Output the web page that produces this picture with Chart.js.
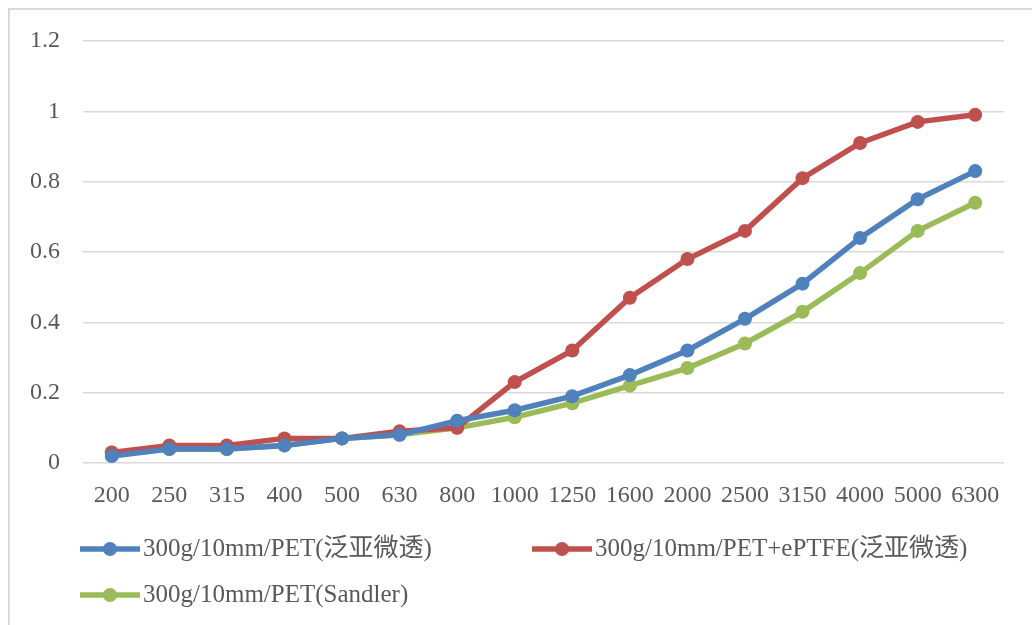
<!DOCTYPE html>
<html>
<head>
<meta charset="utf-8">
<script src="https://cdn.jsdelivr.net/npm/chart.js@4"></script>
<style>
    html, body { margin: 0; padding: 0; background: #fff; overflow: hidden; }
    #wrap { position: relative; width: 1032px; height: 625px; }
    #frame { position: absolute; left: 8px; top: 8px; width: 1040px; height: 640px; border: 2px solid #d9d9d9; }
    canvas { position: absolute; left: 0; top: 0; }
</style>
</head>
<body>
<div id="wrap">
    <div id="frame"></div>
    <canvas id="absorptionChart" width="1032" height="625"></canvas>
</div>
<script>
const frequencies = ["200", "250", "315", "400", "500", "630", "800", "1000", "1250", "1600", "2000", "2500", "3150", "4000", "5000", "6300"];
const petFanya = [0.02, 0.04, 0.04, 0.05, 0.07, 0.08, 0.12, 0.15, 0.19, 0.25, 0.32, 0.41, 0.51, 0.64, 0.75, 0.83];
const petEptfe = [0.03, 0.05, 0.05, 0.07, 0.07, 0.09, 0.10, 0.23, 0.32, 0.47, 0.58, 0.66, 0.81, 0.91, 0.97, 0.99];
const petSandler = [0.03, 0.04, 0.04, 0.05, 0.07, 0.08, 0.10, 0.13, 0.17, 0.22, 0.27, 0.34, 0.43, 0.54, 0.66, 0.74];
const seriesNames = ["300g/10mm/PET(泛亚微透)", "300g/10mm/PET+ePTFE(泛亚微透)", "300g/10mm/PET(Sandler)"];
const yTicks = [0, 0.2, 0.4, 0.6, 0.8, 1, 1.2];

const fontFamily = '"Liberation Serif", "Times New Roman", "Noto Sans CJK SC", serif';

function lineSet(label, data, color) {
    return {
        label: label,
        data: data,
        borderColor: color,
        backgroundColor: color,
        borderWidth: 5.5,
        pointRadius: 7,
        pointHoverRadius: 7,
        pointBorderWidth: 0,
        tension: 0
    };
}

// legend laid out in two columns like the original
const sideLegend = {
    id: 'sideLegend',
    afterDraw(chart) {
        const ctx = chart.ctx;
        const spots = [[80, 549], [532, 549], [80, 595]];
        ctx.save();
        ctx.font = '25px ' + fontFamily;
        ctx.textBaseline = 'middle';
        chart.data.datasets.forEach(function(ds, i) {
            const x = spots[i][0], y = spots[i][1];
            ctx.strokeStyle = ds.borderColor;
            ctx.lineWidth = 5.5;
            ctx.beginPath();
            ctx.moveTo(x, y);
            ctx.lineTo(x + 60, y);
            ctx.stroke();
            ctx.fillStyle = ds.borderColor;
            ctx.beginPath();
            ctx.arc(x + 30, y, 7, 0, Math.PI * 2);
            ctx.fill();
            ctx.fillStyle = '#595959';
            ctx.fillText(ds.label, x + 63, y);
        });
        ctx.restore();
    }
};

new Chart(document.getElementById('absorptionChart').getContext('2d'), {
    type: 'line',
    data: {
        labels: frequencies,
        datasets: [
            lineSet(seriesNames[0], petFanya, '#4f81bd'),
            lineSet(seriesNames[1], petEptfe, '#c0504d'),
            lineSet(seriesNames[2], petSandler, '#9bbb59')
        ]
    },
    options: {
        responsive: false,
        animation: false,
        layout: {
            padding: { left: 0, top: 41, right: 28, bottom: 100 }
        },
        plugins: {
            legend: { display: false },
            tooltip: { enabled: false }
        },
        scales: {
            x: {
                offset: true,
                grid: { display: false },
                border: { display: false },
                ticks: { color: '#595959', font: { family: fontFamily, size: 24 }, padding: 10, maxRotation: 0, autoSkip: false },
                afterFit: function(s) { s.height = 62; }
            },
            y: {
                min: 0,
                max: 1.2,
                afterBuildTicks: function(s) { s.ticks = yTicks.map(function(v) { return { value: v }; }); },
                grid: { color: '#d9d9d9', lineWidth: 1.5, drawTicks: false },
                border: { display: false },
                ticks: {
                    color: '#595959',
                    font: { family: fontFamily, size: 24 },
                    padding: 23,
                    callback: function(v) { return String(v); }
                },
                afterFit: function(s) { s.width = 83; }
            }
        }
    },
    plugins: [sideLegend]
});
</script>
</body>
</html>
